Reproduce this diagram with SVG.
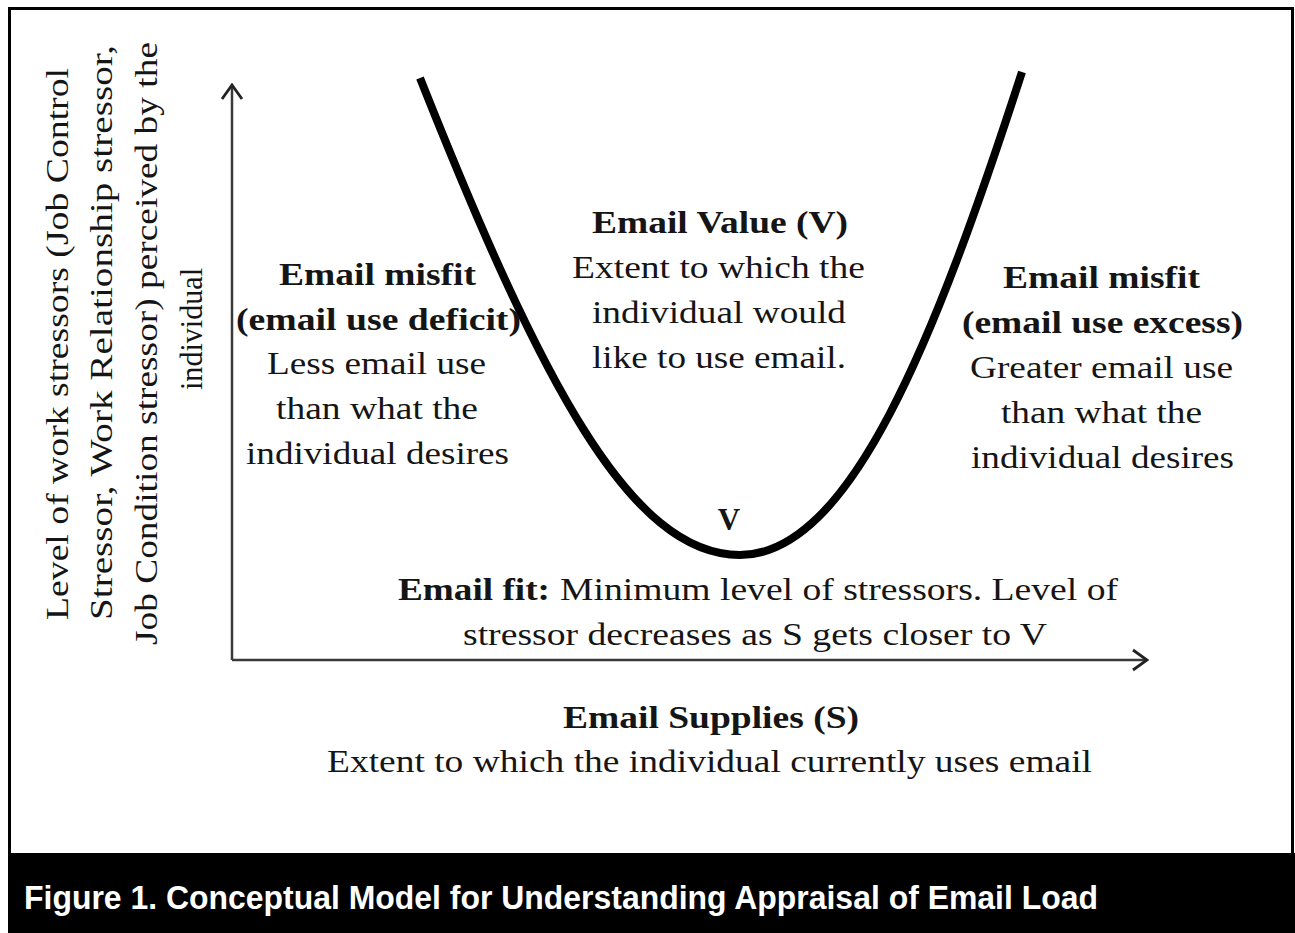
<svg xmlns="http://www.w3.org/2000/svg" width="1295" height="933" viewBox="0 0 1295 933">
<style>
.t{font-family:'Liberation Serif','Times New Roman',Times,serif;font-size:31px;fill:#151515}
.b{font-weight:bold}
.ax{stroke:#3a3a3a;stroke-width:2.5;fill:none}
.cap{font-family:'Liberation Sans',Arial,sans-serif;font-weight:bold;font-size:33px;fill:#ffffff}
</style>
<defs>
<marker id="arr" viewBox="0 0 20 24" refX="18" refY="12" markerWidth="20" markerHeight="24" markerUnits="userSpaceOnUse" orient="auto">
<path d="M4,2 L18,12 L4,22" fill="none" stroke="#222" stroke-width="2.8"/>
</marker>
</defs>
<rect x="0" y="0" width="1295" height="933" fill="#ffffff"/>
<rect id="frame" x="9.5" y="8.5" width="1283" height="860" fill="none" stroke="#000" stroke-width="3"/>
<g id="caption">
<rect x="8" y="853" width="1287" height="80" fill="#000"/>
<text class="cap" x="24" y="909" textLength="1074" lengthAdjust="spacingAndGlyphs">Figure 1. Conceptual Model for Understanding Appraisal of Email Load</text>
</g>
<g id="connectors">
<path class="ax" d="M232,660 L232,85" marker-end="url(#arr)"/>
<path class="ax" d="M232,660 L1147,660" marker-end="url(#arr)"/>
<path id="curve" d="M420,78 C540,380 630,555 740,555 C850,555 935,340 1022,72" fill="none" stroke="#000" stroke-width="8"/>
</g>
<g id="y-label">
<text class="t" transform="translate(68,620) rotate(-90)" textLength="552" lengthAdjust="spacingAndGlyphs">Level of work stressors  (Job Control</text>
<text class="t" transform="translate(112,620) rotate(-90)" textLength="575" lengthAdjust="spacingAndGlyphs">Stressor,  Work Relationship stressor,</text>
<text class="t" transform="translate(157,645) rotate(-90)" textLength="603" lengthAdjust="spacingAndGlyphs">Job Condition stressor) perceived by the</text>
<text class="t" transform="translate(202,390) rotate(-90)" textLength="122" lengthAdjust="spacingAndGlyphs">individual</text>
</g>
<g id="email-value">
<text class="t b" x="592" y="233" textLength="256" lengthAdjust="spacingAndGlyphs">Email Value (V)</text>
<text class="t" x="572" y="278" textLength="293" lengthAdjust="spacingAndGlyphs">Extent to which the</text>
<text class="t" x="592" y="323" textLength="254" lengthAdjust="spacingAndGlyphs">individual would</text>
<text class="t" x="592" y="368" textLength="254" lengthAdjust="spacingAndGlyphs">like to use email.</text>
</g>
<g id="misfit-deficit">
<text class="t b" x="279" y="285" textLength="197" lengthAdjust="spacingAndGlyphs">Email misfit</text>
<text class="t b" x="236" y="330" textLength="285" lengthAdjust="spacingAndGlyphs">(email use deficit)</text>
<text class="t" x="267" y="374" textLength="219" lengthAdjust="spacingAndGlyphs">Less email use</text>
<text class="t" x="276" y="419" textLength="202" lengthAdjust="spacingAndGlyphs">than what the</text>
<text class="t" x="246" y="464" textLength="263" lengthAdjust="spacingAndGlyphs">individual desires</text>
</g>
<g id="misfit-excess">
<text class="t b" x="1003" y="288" textLength="197" lengthAdjust="spacingAndGlyphs">Email misfit</text>
<text class="t b" x="962" y="333" textLength="281" lengthAdjust="spacingAndGlyphs">(email use excess)</text>
<text class="t" x="970" y="378" textLength="263" lengthAdjust="spacingAndGlyphs">Greater email use</text>
<text class="t" x="1001" y="423" textLength="201" lengthAdjust="spacingAndGlyphs">than what the</text>
<text class="t" x="971" y="468" textLength="263" lengthAdjust="spacingAndGlyphs">individual desires</text>
</g>
<g id="v-point">
<text class="t b" x="729" y="530" text-anchor="middle">V</text>
</g>
<g id="email-fit">
<text class="t b" x="398" y="600" textLength="152" lengthAdjust="spacingAndGlyphs">Email fit:</text>
<text class="t" x="560" y="600" textLength="558" lengthAdjust="spacingAndGlyphs">Minimum  level of stressors. Level of</text>
<text class="t" x="463" y="645" textLength="584" lengthAdjust="spacingAndGlyphs">stressor decreases as S gets closer to V</text>
</g>
<g id="email-supplies">
<text class="t b" x="563" y="728" textLength="296" lengthAdjust="spacingAndGlyphs">Email Supplies (S)</text>
<text class="t" x="327" y="772" textLength="765" lengthAdjust="spacingAndGlyphs">Extent to which the individual currently uses email</text>
</g>
</svg>
